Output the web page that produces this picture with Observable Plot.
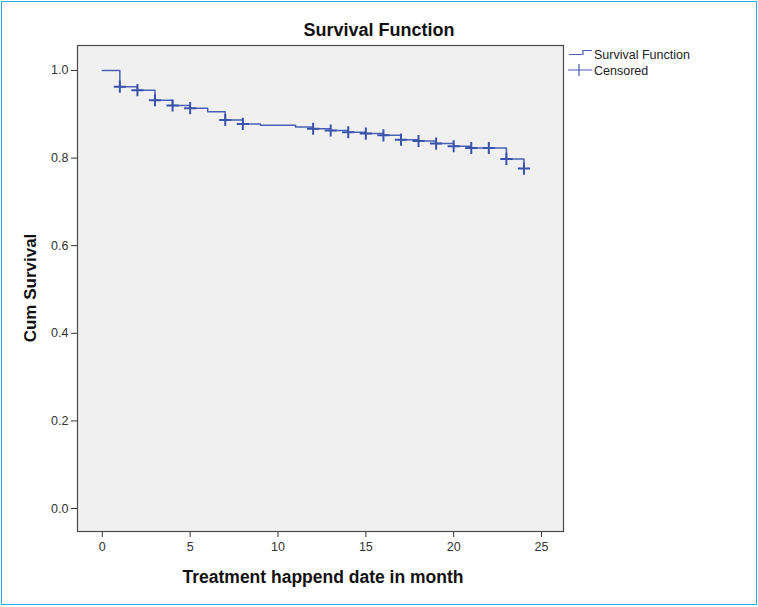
<!DOCTYPE html>
<html>
<head>
<meta charset="utf-8">
<script src="https://cdn.jsdelivr.net/npm/d3@7"></script>
<script src="https://cdn.jsdelivr.net/npm/@observablehq/plot@0.6"></script>
<style>
  html, body { margin: 0; padding: 0; background: #fff; }
  #wrap { position: relative; width: 758px; height: 607px; }
  #border { position: absolute; left: 1px; top: 1px; width: 754px; height: 602px; border: 1px solid #22aee6; pointer-events: none; }
  svg text { font-family: "Liberation Sans", Arial, sans-serif; }
</style>
</head>
<body>
<div id="wrap"><div id="border"></div></div>
<script>
// Step times (months) and cumulative survival after each step
const times    = [0, 1, 2, 3, 4, 5, 6, 7, 8, 9, 11, 12, 13, 14, 15, 16, 17, 18, 19, 20, 21, 22, 23, 24];
const survival = [1.0, 0.963, 0.955, 0.932, 0.920, 0.914, 0.906, 0.887, 0.878, 0.875, 0.871, 0.867, 0.863, 0.859, 0.856, 0.852, 0.842, 0.839, 0.833, 0.827, 0.823, 0.823, 0.798, 0.776];
// Censored observation times
const censoredTimes = [1, 2, 3, 4, 5, 7, 8, 12, 13, 14, 15, 16, 17, 18, 19, 20, 21, 22, 23, 24];
const xTicks = [0, 5, 10, 15, 20, 25];
const yTicks = [0.0, 0.2, 0.4, 0.6, 0.8, 1.0];

const curve = times.map((t, i) => ({t, s: survival[i]}));
const censored = censoredTimes.map(t => ({t, s: survival[times.indexOf(t)]}));

const lineColor = "#4a60b6";
const crossColor = "#3a52aa";

const chart = Plot.plot({
  width: 758,
  height: 607,
  marginLeft: 77,
  marginRight: 195,
  marginTop: 45,
  marginBottom: 76,
  style: { fontFamily: "Liberation Sans, Arial, sans-serif", fontSize: "12.5px", color: "#333", background: "transparent" },
  x: { domain: [-1.41, 26.25] },
  y: { domain: [-0.0525, 1.057] },
  marks: [
    Plot.frame({ fill: "#f0f0f0", stroke: null }),
    Plot.axisX({ ticks: xTicks, tickSize: 6, tickPadding: 5, label: null, stroke: "#333" }),
    Plot.axisY({ ticks: yTicks, tickFormat: d3.format(".1f"), tickSize: 6, tickPadding: 3, label: null, stroke: "#333" }),
    Plot.line(curve, { x: "t", y: "s", curve: "step-after", stroke: lineColor, strokeWidth: 1.5 }),
    Plot.dot(censored, { x: "t", y: "s", symbol: "plus", r: 4, stroke: crossColor, strokeWidth: 2 }),
    Plot.frame({ stroke: "#4a4a4a", strokeWidth: 1.2 })
  ]
});

document.getElementById("wrap").appendChild(chart);
const svg = d3.select(chart);

svg.append("text").attr("x", 379).attr("y", 36).attr("text-anchor", "middle")
  .style("font-size", "18px").style("font-weight", "bold").attr("fill", "#111").text("Survival Function");
svg.append("text").attr("transform", "translate(36,288) rotate(-90)").attr("text-anchor", "middle")
  .style("font-size", "17px").style("font-weight", "bold").attr("fill", "#111").text("Cum Survival");
svg.append("text").attr("x", 323).attr("y", 583).attr("text-anchor", "middle")
  .style("font-size", "17.5px").style("font-weight", "bold").attr("fill", "#111").text("Treatment happend date in month");

// Legend
const lg = svg.append("g").attr("text-anchor", "start");
lg.append("path").attr("d", "M569,54.5H583V50.5H592").attr("fill", "none").attr("stroke", lineColor).attr("stroke-width", 1.2);
lg.append("text").attr("x", 594).attr("y", 59).attr("text-anchor", "start").style("font-size", "12.5px").attr("fill", "#222").text("Survival Function");
lg.append("path").attr("d", "M568,70H592M579,64V76").attr("fill", "none").attr("stroke", lineColor).attr("stroke-width", 1.2);
lg.append("text").attr("x", 594).attr("y", 75).attr("text-anchor", "start").style("font-size", "12.5px").attr("fill", "#222").text("Censored");
</script>
</body>
</html>
